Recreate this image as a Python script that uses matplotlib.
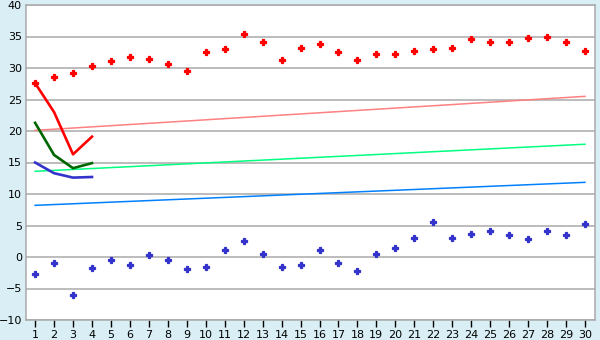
import numpy as np
import matplotlib
matplotlib.use('Agg')
import matplotlib.pyplot as plt

# Data
days = list(range(1, 31))
red_points = [27.6, 28.5, 29.2, 30.3, 31.1, 31.7, 31.5, 30.6, 29.6, 32.5,
              33.0, 35.4, 34.1, 31.2, 33.1, 33.8, 32.5, 31.2, 32.3, 32.2,
              32.7, 33.0, 33.1, 34.6, 34.1, 34.2, 34.7, 34.9, 34.1, 32.7]
blue_points = [-2.75, -1.0, -6.1, -1.8, -0.5, -1.3, 0.3, -0.4, -1.95, -1.65,
               1.05, 2.5, 0.4, -1.65, -1.3, 1.05, -1.0, -2.3, 0.4, 1.5,
               2.95, 5.5, 2.95, 3.6, 4.1, 3.45, 2.8, 4.1, 3.45, 5.2]

short_x = [1, 2, 3, 4]
red_line = [27.6, 23.0, 16.3, 19.1]
green_line = [21.3, 16.2, 14.1, 14.9]
blue_line = [15.0, 13.3, 12.6, 12.7]

trend_x = [1, 30]
red_trend = [20.1, 25.5]
green_trend = [13.6, 17.9]
blue_trend = [8.2, 11.85]

bg = '#d9eff5'
grid_col = '#aaaaaa'

fig = plt.figure(figsize=(6, 3.4), dpi=100, facecolor=bg)
ax = fig.add_axes([26 / 600, 1 - 320 / 340, 569 / 600, 315 / 340])
ax.set_facecolor('white')

# trend lines
ax.plot(trend_x, red_trend, color='#ff8080', lw=1.1, zorder=2)
ax.plot(trend_x, green_trend, color='#00ff80', lw=1.1, zorder=2)
ax.plot(trend_x, blue_trend, color='#0080ff', lw=1.1, zorder=2)

# short thick lines
ax.plot(short_x, red_line, color='#ff0000', lw=1.9, zorder=3)
ax.plot(short_x, green_line, color='#006600', lw=1.9, zorder=3)
ax.plot(short_x, blue_line, color='#3333cc', lw=1.9, zorder=3)

# scatter points
ax.plot(days, red_points, ls='none', marker='P', ms=4.5, color='#ff0000',
        markeredgewidth=0.9, zorder=4)
ax.plot(days, blue_points, ls='none', marker='P', ms=4.5, color='#3333cc',
        markeredgewidth=0.9, zorder=4)

ax.set_xlim(0.52, 30.53)
ax.set_ylim(-10, 40)
ax.set_xticks(days)
ax.set_yticks(range(-10, 41, 5))
ax.yaxis.grid(True, color=grid_col, lw=1.1)
ax.set_axisbelow(True)

for side in ['left', 'right', 'top', 'bottom']:
    ax.spines[side].set_color(grid_col)
    ax.spines[side].set_linewidth(1.1)

ax.tick_params(axis='x', length=5, width=1, color='black', labelsize=8, pad=2)
ax.tick_params(axis='y', length=0, labelsize=8, pad=3)

plt.savefig('out.png', dpi=100, facecolor=bg)
